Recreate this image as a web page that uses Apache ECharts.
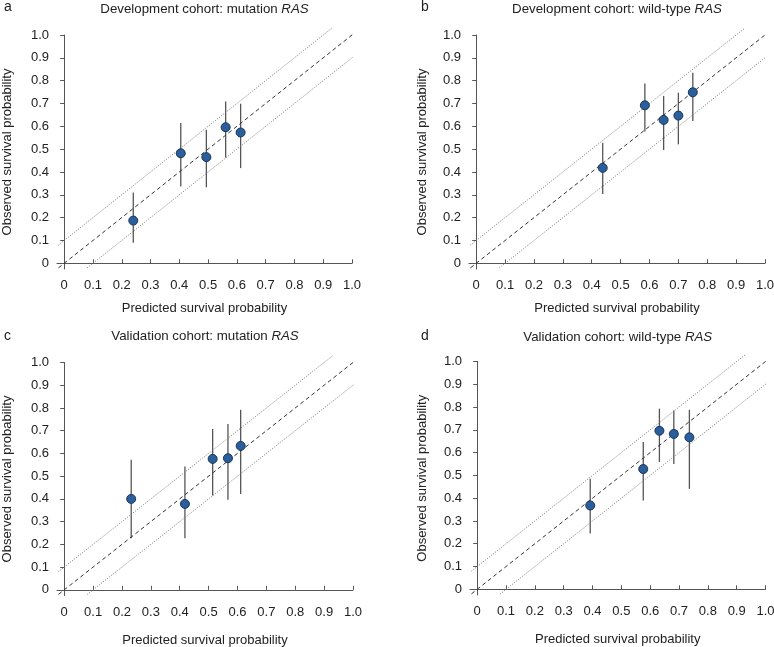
<!DOCTYPE html>
<html>
<head>
<meta charset="utf-8">
<script src="https://cdn.jsdelivr.net/npm/echarts@6/dist/echarts.min.js"></script>
<style>
  html, body { margin: 0; padding: 0; background: #fff; }
  #chart { width: 774px; height: 647px; }
</style>
</head>
<body>
<div id="chart"></div>
<script>
// tick values shared by both axes of every panel
const tickValues = [0, 0.1, 0.2, 0.3, 0.4, 0.5, 0.6, 0.7, 0.8, 0.9, 1.0];

// reference lines: perfect calibration and +/- 0.1
const diagLine = [[-0.02, -0.02], [1.02, 1.02]];
const upperLine = [[-0.02, 0.08], [0.93, 1.03]];
const lowerLine = [[0.08, -0.02], [1.02, 0.92]];

// panel a: development cohort, mutation RAS
const devMutPred = [0.24, 0.405, 0.494, 0.561, 0.613];
const devMutObs = [0.187, 0.482, 0.465, 0.596, 0.573];
const devMutLow = [0.09, 0.336, 0.333, 0.463, 0.417];
const devMutHigh = [0.31, 0.614, 0.585, 0.709, 0.699];

// panel b: development cohort, wild-type RAS
const devWtPred = [0.438, 0.584, 0.649, 0.70, 0.75];
const devWtObs = [0.418, 0.692, 0.628, 0.647, 0.749];
const devWtLow = [0.304, 0.577, 0.496, 0.521, 0.623];
const devWtHigh = [0.528, 0.788, 0.733, 0.747, 0.835];

// panel c: validation cohort, mutation RAS
const valMutPred = [0.232, 0.418, 0.514, 0.567, 0.611];
const valMutObs = [0.40, 0.378, 0.576, 0.579, 0.633];
const valMutLow = [0.227, 0.227, 0.415, 0.396, 0.421];
const valMutHigh = [0.572, 0.543, 0.708, 0.730, 0.792];

// panel d: validation cohort, wild-type RAS
const valWtPred = [0.392, 0.576, 0.632, 0.682, 0.736];
const valWtObs = [0.368, 0.528, 0.696, 0.682, 0.667];
const valWtLow = [0.245, 0.390, 0.559, 0.550, 0.441];
const valWtHigh = [0.485, 0.647, 0.793, 0.785, 0.788];

const panels = [
  { letter: 'a', title: 'Development cohort: mutation ', pred: devMutPred, obs: devMutObs, low: devMutLow, high: devMutHigh,
    grid: { left: 57, top: 35, width: 295, height: 234 }, titleTop: 3, xGap: 33, yGap: 43 },
  { letter: 'b', title: 'Development cohort: wild-type ', pred: devWtPred, obs: devWtObs, low: devWtLow, high: devWtHigh,
    grid: { left: 469, top: 35, width: 296, height: 234 }, titleTop: 3, xGap: 33, yGap: 40 },
  { letter: 'c', title: 'Validation cohort: mutation ', pred: valMutPred, obs: valMutObs, low: valMutLow, high: valMutHigh,
    grid: { left: 57, top: 362.5, width: 296, height: 233 }, titleTop: 330, xGap: 38, yGap: 43 },
  { letter: 'd', title: 'Validation cohort: wild-type ', pred: valWtPred, obs: valWtObs, low: valWtLow, high: valWtHigh,
    grid: { left: 470, top: 361.5, width: 295.5, height: 233.5 }, titleTop: 331, xGap: 38, yGap: 41 }
];

const font = '"Liberation Sans", Arial, Helvetica, sans-serif';
const textColor = '#222';
const fmt = function (v) { return v === 0 ? '0' : v.toFixed(1); };

const chart = echarts.init(document.getElementById('chart'));

const grids = [], xAxes = [], yAxes = [], series = [], titles = [], graphics = [];

panels.forEach(function (p, i) {
  grids.push(Object.assign({ outerBoundsMode: 'none' }, p.grid));
  const cx = p.grid.left + p.grid.width / 2;
  titles.push({
    text: '{n|' + p.title + '}{i|RAS}',
    left: cx,
    top: p.titleTop,
    padding: 0,
    textAlign: 'center',
    textStyle: {
      rich: {
        n: { fontFamily: font, fontSize: 13.3, fontWeight: 'normal', color: textColor },
        i: { fontFamily: font, fontSize: 13.3, fontWeight: 'normal', color: textColor, fontStyle: 'italic' }
      }
    }
  });
  graphics.push({
    type: 'text',
    left: i % 2 === 0 ? 4 : 421,
    top: i < 2 ? 0 : 329,
    style: { text: p.letter, font: '14px ' + font, fill: textColor }
  });

  xAxes.push({
    gridIndex: i, type: 'value', min: -0.025, max: 1,
    axisLine: { lineStyle: { color: '#555' } },
    axisTick: { inside: true, length: 4, customValues: tickValues, lineStyle: { color: '#555' } },
    axisLabel: { customValues: tickValues, formatter: fmt, fontFamily: font, fontSize: 13, color: textColor, margin: 10 },
    splitLine: { show: false },
    name: 'Predicted survival probability', nameLocation: 'middle', nameGap: p.xGap, nameMoveOverlap: false,
    nameTextStyle: { fontFamily: font, fontSize: 13, color: textColor }
  });
  yAxes.push({
    gridIndex: i, type: 'value', min: -0.025, max: 1,
    axisLine: { show: true, lineStyle: { color: '#555' } },
    axisTick: { show: true, inside: false, length: 4, customValues: tickValues, lineStyle: { color: '#555' } },
    axisLabel: { customValues: tickValues, formatter: fmt, fontFamily: font, fontSize: 13, color: textColor, margin: 8 },
    splitLine: { show: false },
    name: 'Observed survival probability', nameLocation: 'middle', nameGap: p.yGap, nameMoveOverlap: false,
    nameTextStyle: { fontFamily: font, fontSize: 13, color: textColor }
  });

  [upperLine, lowerLine].forEach(function (ln) {
    series.push({
      type: 'line', xAxisIndex: i, yAxisIndex: i, data: ln, symbol: 'none', clip: false, silent: true,
      lineStyle: { color: '#777', width: 1, type: [1, 1.5] }
    });
  });
  series.push({
    type: 'line', xAxisIndex: i, yAxisIndex: i, data: diagLine, symbol: 'none', clip: false, silent: true,
    lineStyle: { color: '#333', width: 1, type: [4, 3] }
  });

  const bars = p.pred.map(function (x, k) { return [x, p.low[k], p.high[k]]; });
  series.push({
    type: 'custom', xAxisIndex: i, yAxisIndex: i, data: bars, silent: true,
    renderItem: function (params, api) {
      const a = api.coord([api.value(0), api.value(1)]);
      const b = api.coord([api.value(0), api.value(2)]);
      return { type: 'line', shape: { x1: a[0], y1: a[1], x2: b[0], y2: b[1] },
        style: { stroke: '#555', lineWidth: 1.3 } };
    }
  });

  series.push({
    type: 'scatter', xAxisIndex: i, yAxisIndex: i, symbolSize: 9, z: 5,
    data: p.pred.map(function (x, k) { return [x, p.obs[k]]; }),
    itemStyle: { color: '#2a5e9c', borderColor: '#1a3558', borderWidth: 1, opacity: 1 }
  });
});

chart.setOption({
  animation: false,
  backgroundColor: '#fff',
  title: titles,
  graphic: graphics,
  grid: grids,
  xAxis: xAxes,
  yAxis: yAxes,
  series: series
});
</script>
</body>
</html>
